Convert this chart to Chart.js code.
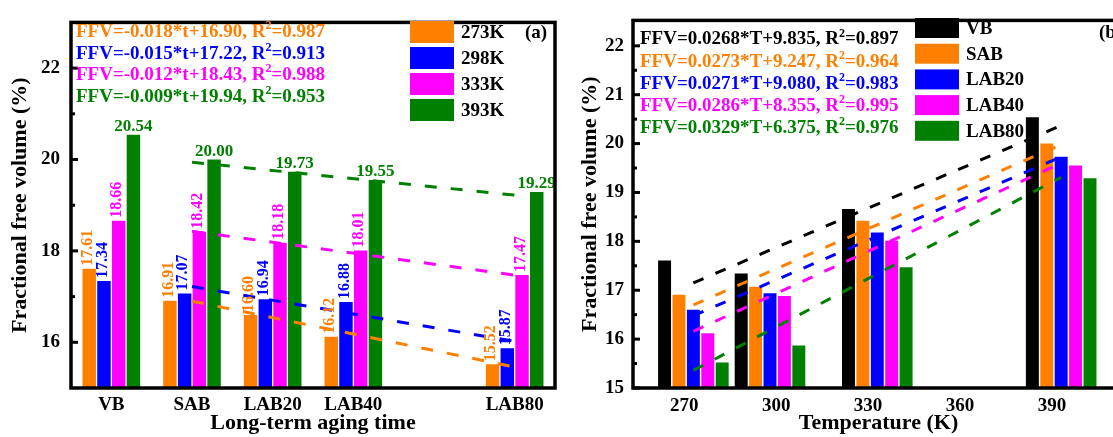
<!DOCTYPE html>
<html>
<head>
<meta charset="utf-8">
<script src="https://cdn.jsdelivr.net/npm/chart.js@4.4.1/dist/chart.umd.min.js"></script>
<style>
html,body{margin:0;padding:0;background:#fff;overflow:hidden;width:1113px;height:437px;}
canvas{position:absolute;top:0;}
#chartA{left:0;}
#chartB{left:563px;}
</style>
</head>
<body>
<canvas id="chartA" width="600" height="437"></canvas>
<canvas id="chartB" width="600" height="437"></canvas>
<script>
// data
const binders=["VB","SAB","LAB20","LAB40","LAB80"];
const agingDays=[-20,0,20,40,80];
const tempLabels=["273K","298K","333K","393K"];
const temps=[273,298,333,393];

const ffv273=[17.61,16.91,16.60,16.12,15.52];
const ffv298=[17.34,17.07,16.94,16.88,15.87];
const ffv333=[18.66,18.42,18.18,18.01,17.47];
const ffv393=[20.54,20.00,19.73,19.55,19.29];

// dashed fit lines, end points
const fitDays=[0,80];
const fit273=[16.90,15.46];
const fit298=[17.22,16.02];
const fit333=[18.43,17.47];
const fit393=[19.94,19.22];

const fitTemps=[273,393];
const fitVB=[17.15,20.37];
const fitSAB=[16.70,19.98];
const fitLAB20=[16.48,19.73];
const fitLAB40=[16.16,19.60];
const fitLAB80=[15.36,19.31];

const eqA=[
"FFV=-0.018*t+16.90, R^2=0.987",
"FFV=-0.015*t+17.22, R^2=0.913",
"FFV=-0.012*t+18.43, R^2=0.988",
"FFV=-0.009*t+19.94, R^2=0.953"
];
const eqB=[
"FFV=0.0268*T+9.835, R^2=0.897",
"FFV=0.0273*T+9.247, R^2=0.964",
"FFV=0.0271*T+9.080, R^2=0.983",
"FFV=0.0286*T+8.355, R^2=0.995",
"FFV=0.0329*T+6.375, R^2=0.976"
];

const yTicksA=[16,18,20,22];
const yTicksB=[15,16,17,18,19,20,21,22];
const xTicksB=[270,300,330,360,390];

const tempColors=["#FF8000","#0000FF","#FF00FF","#008000"];
const binderColors=["#000000","#FF8000","#0000FF","#FF00FF","#008000"];

const byTemp=[ffv273,ffv298,ffv333,ffv393];
const fitsA=[fit273,fit298,fit333,fit393];
const fitsB=[fitVB,fitSAB,fitLAB20,fitLAB40,fitLAB80];

const FONT='"Liberation Serif","Times New Roman",serif';
Chart.defaults.font.family=FONT;
Chart.defaults.font.weight='bold';
Chart.defaults.font.size=19;
Chart.defaults.color='#000';

function drawEq(ctx,text,x,y,color){
  const parts=text.split('^2');
  ctx.fillStyle=color;
  ctx.textAlign='left';
  ctx.textBaseline='middle';
  ctx.font='bold 19px '+FONT;
  ctx.fillText(parts[0],x,y);
  let w=ctx.measureText(parts[0]).width;
  ctx.font='bold 12px '+FONT;
  ctx.fillText('2',x+w,y-6);
  w+=ctx.measureText('2').width;
  ctx.font='bold 19px '+FONT;
  ctx.fillText(parts[1],x+w,y);
}

function decor(o){
  return {
    id:'decor',
    afterDatasetsDraw(chart){
      const ctx=chart.ctx, a=chart.chartArea, ys=chart.scales.y;
      ctx.save();
      // value labels
      if(o.valueLabels){
        chart.data.datasets.forEach((ds,di)=>{
          if(ds.type==='line')return;
          const meta=chart.getDatasetMeta(di);
          meta.data.forEach((bar,i)=>{
            const txt=ds.data[i].y.toFixed(2);
            ctx.fillStyle=ds.backgroundColor;
            if(di===3){
              ctx.font='bold 17px '+FONT;
              ctx.textAlign='center';ctx.textBaseline='alphabetic';
              ctx.fillText(txt,bar.x,bar.y-4);
            }else{
              ctx.font='bold 16px '+FONT;
              ctx.save();
              ctx.translate(bar.x-1.5,bar.y-3);
              ctx.rotate(-Math.PI/2);
              ctx.textAlign='left';ctx.textBaseline='middle';
              ctx.fillText(txt,0,0);
              ctx.restore();
            }
          });
        });
      }
      // frame
      ctx.strokeStyle='#000';
      ctx.lineWidth=3.5;
      ctx.strokeRect(a.left,a.top,a.right-a.left,a.bottom-a.top);
      // inward ticks on left axis
      ctx.lineWidth=3;
      o.majors.forEach(v=>{
        const p=ys.getPixelForValue(v);
        ctx.beginPath();ctx.moveTo(a.left,p);ctx.lineTo(a.left+7,p);ctx.stroke();
      });
      o.minors.forEach(v=>{
        const p=ys.getPixelForValue(v);
        ctx.beginPath();ctx.moveTo(a.left,p);ctx.lineTo(a.left+4,p);ctx.stroke();
      });
      // equations
      o.eqs.forEach((t,i)=>drawEq(ctx,t,o.eqX,o.eqY+o.eqStep*i,o.eqColors[i]));
      // legend
      chart.data.datasets.filter(d=>d.type!=='line').forEach((ds,i)=>{
        const top=o.legY+o.legStep*i;
        ctx.fillStyle=ds.backgroundColor;
        ctx.fillRect(o.legX,top,44,o.legH);
        ctx.fillStyle='#000';
        ctx.font='bold 19px '+FONT;
        ctx.textAlign='left';ctx.textBaseline='middle';
        ctx.fillText(ds.label,o.legX+51,top+o.legH/2+1);
      });
      ctx.font='bold 19px '+FONT;
      ctx.fillStyle='#000';
      ctx.fillText(o.tag,o.tagX,o.tagY);
      ctx.restore();
    }
  };
}

// panel (a)
const dsA=tempLabels.map((lab,k)=>({
  type:'bar',label:lab,order:1,
  data:agingDays.map((d,i)=>({x:d,y:byTemp[k][i]})),
  backgroundColor:tempColors[k],borderWidth:0,
  categoryPercentage:0.73,barPercentage:0.915
}));
fitsA.forEach((f,k)=>dsA.push({
  type:'line',label:'fit '+tempLabels[k],order:0,
  data:fitDays.map((d,i)=>({x:d,y:f[i]})),
  borderColor:tempColors[k],borderWidth:3,borderDash:[12,14],
  pointRadius:0,fill:false
}));

new Chart(document.getElementById('chartA'),{
  type:'bar',
  data:{datasets:dsA},
  options:{
    responsive:false,animation:false,
    layout:{padding:{left:0,right:45,top:15,bottom:0}},
    plugins:{legend:{display:false},tooltip:{enabled:false}},
    scales:{
      x:{type:'linear',min:-30,max:90,offset:false,
        grid:{display:false,drawTicks:false},border:{display:false},
        afterBuildTicks:s=>{s.ticks=agingDays.map(v=>({value:v}));},
        afterFit:s=>{s.height=49;},
        ticks:{autoSkip:false,maxRotation:0,padding:6,font:{size:19},
          callback:v=>binders[agingDays.indexOf(v)]},
        title:{display:true,text:'Long-term aging time',font:{size:22},padding:{top:0,bottom:0}}
      },
      y:{min:15,max:23,
        grid:{display:false,drawTicks:false},border:{display:false},
        afterBuildTicks:s=>{s.ticks=yTicksA.map(v=>({value:v}));},
        afterFit:s=>{s.width=71;},
        ticks:{padding:11,font:{size:19}},
        title:{display:true,text:'Fractional free volume (%)',font:{size:22},padding:{top:7,bottom:0}}
      }
    }
  },
  plugins:[decor({valueLabels:true,majors:yTicksA,minors:[17,19,21],
    eqs:eqA,eqX:76,eqY:32,eqStep:21.7,eqColors:tempColors,
    legX:410,legY:21,legStep:26,legH:22,tag:'(a)',tagX:525,tagY:33})]
});

// panel (b)
const dsB=binders.map((b,j)=>({
  type:'bar',label:b,order:1,
  data:temps.map((T,i)=>({x:T,y:byTemp[i][j]})),
  backgroundColor:binderColors[j],borderWidth:0,
  categoryPercentage:0.94,barPercentage:0.9
}));
fitsB.forEach((f,j)=>dsB.push({
  type:'line',label:'fit '+binders[j],order:0,
  data:fitTemps.map((T,i)=>({x:T,y:f[i]})),
  borderColor:binderColors[j],borderWidth:3,borderDash:[11,13],
  pointRadius:0,fill:false
}));

new Chart(document.getElementById('chartB'),{
  type:'bar',
  data:{datasets:dsB},
  options:{
    responsive:false,animation:false,
    layout:{padding:{left:0,right:39,top:15,bottom:0}},
    plugins:{legend:{display:false},tooltip:{enabled:false}},
    scales:{
      x:{type:'linear',min:253.3,max:413.5,offset:false,
        grid:{display:false,drawTicks:false},border:{display:false},
        afterBuildTicks:s=>{s.ticks=xTicksB.map(v=>({value:v}));},
        afterFit:s=>{s.height=49;},
        ticks:{autoSkip:false,maxRotation:0,padding:7,font:{size:19}},
        title:{display:true,text:'Temperature (K)',font:{size:22},padding:{top:0,bottom:0}}
      },
      y:{min:15,max:22.52,
        grid:{display:false,drawTicks:false},border:{display:false},
        afterBuildTicks:s=>{s.ticks=yTicksB.map(v=>({value:v}));},
        afterFit:s=>{s.width=70;},
        ticks:{padding:9,font:{size:19}},
        title:{display:true,text:'Fractional free volume (%)',font:{size:22},padding:{top:14,bottom:0}}
      }
    }
  },
  plugins:[decor({valueLabels:false,majors:yTicksB,minors:[15.5,16.5,17.5,18.5,19.5,20.5,21.5],
    eqs:eqB,eqX:77,eqY:39.5,eqStep:22.2,eqColors:binderColors,
    legX:352,legY:18,legStep:25.7,legH:20,tag:'(b)',tagX:536,tagY:33})]
});
</script>
</body>
</html>
